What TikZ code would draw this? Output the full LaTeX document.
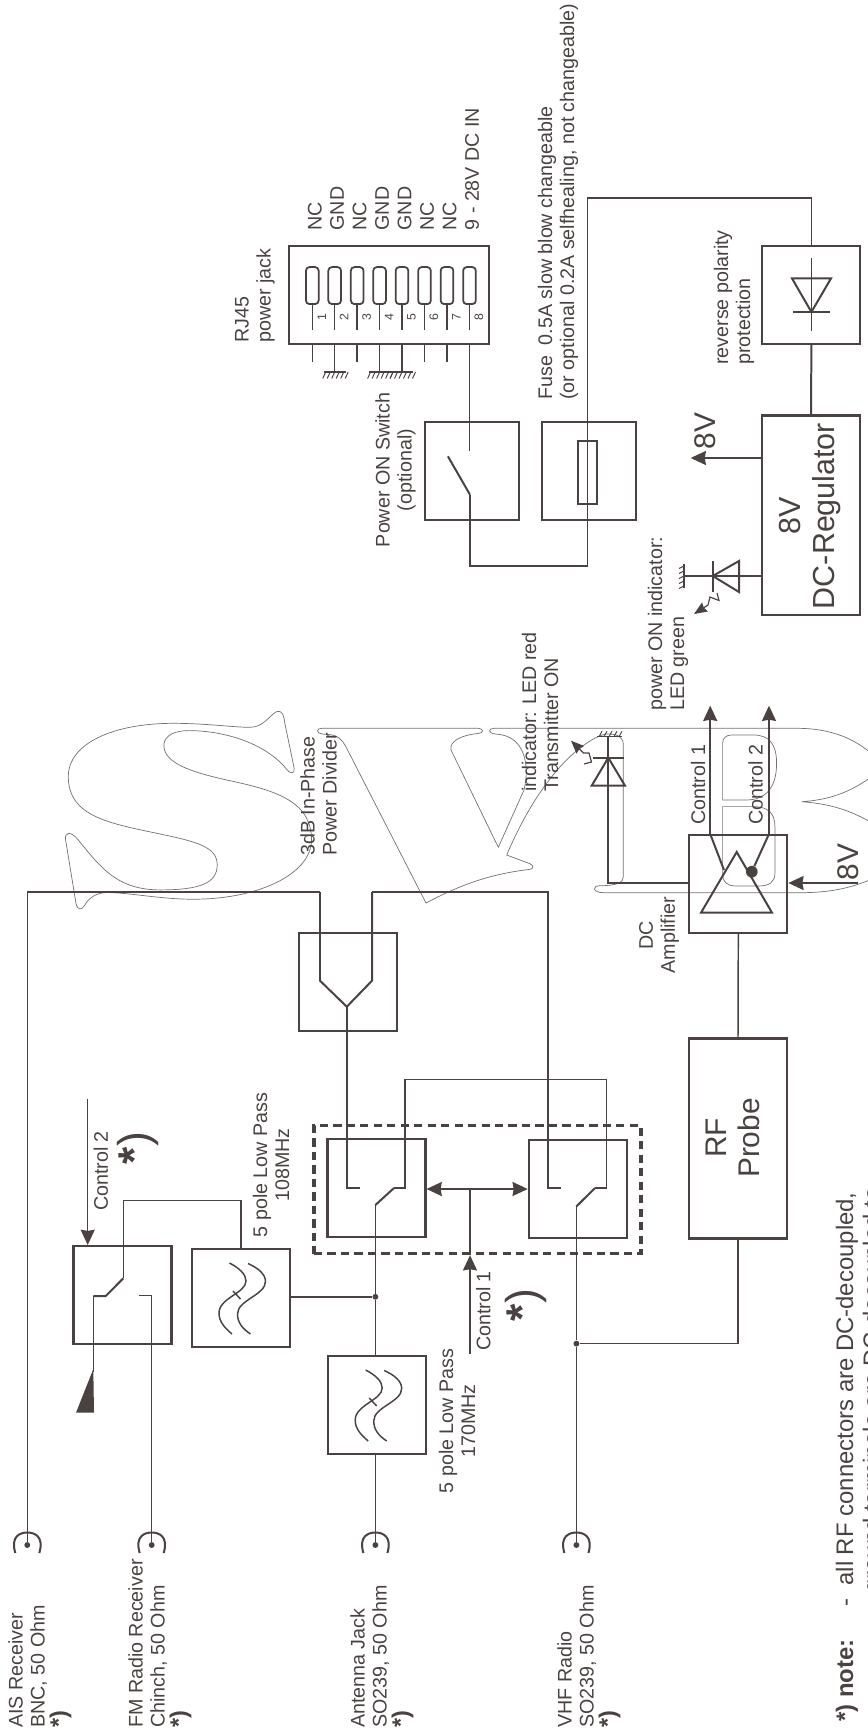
\documentclass[tikz,border=0pt]{standalone}
\usepackage{fontspec}
\setmainfont{Liberation Sans}
\usetikzlibrary{arrows.meta}
\definecolor{ink}{HTML}{4A4241}
\definecolor{wmark}{HTML}{727272}
\tikzset{
  blk/.style={draw=ink, line width=1.8pt, minimum width=2.94cm, minimum height=2.94cm, inner sep=0pt},
  wire/.style={draw=ink, line width=1.25pt},
  thk/.style={draw=ink, line width=1.7pt},
  arw/.style={-{Stealth[length=13pt, width=12pt, inset=1pt]}, draw=ink, line width=1.25pt},
  arwsm/.style={-{Stealth[length=11pt, width=9pt, inset=1pt]}, draw=ink, line width=1pt},
  jackdot/.style={circle, fill=ink, inner sep=0pt, minimum size=5pt},
  jdot/.style={circle, fill=ink, inner sep=0pt, minimum size=5pt},
  lbl/.style={rotate=90, anchor=west, align=left, inner sep=0pt, text=ink, font=\fontsize{16.8}{18.8}\selectfont},
  lblc/.style={rotate=90, anchor=center, align=center, inner sep=0pt, text=ink, font=\fontsize{16.8}{18.8}\selectfont},
  lblb/.style={lblc, font=\fontsize{25.5}{28}\selectfont},
  starlbl/.style={lblc, font=\fontsize{38}{38}\selectfont},
  notel/.style={lbl, font=\fontsize{20.4}{24}\selectfont},
  mk/.style={draw=wmark, line width=.6pt},
}
\newcommand{\notemark}{{\bfseries\fontsize{20}{19}\selectfont *)}}

\begin{document}
\begin{tikzpicture}[x=0.03cm, y=-0.03cm]
    \useasboundingbox (0,0) rectangle (868,1735);
    \begin{scope}
      \clip (0,0) rectangle (868,1735);
      \begin{scope}[shift={(0,700)}, x=0.01cm, y=-0.01cm]
        \draw[mk] (830,35) .. controls (850,30) and (852,50) .. (855,70) -- (883,205)
          .. controls (885,222) and (872,222) .. (862,210) .. controls (800,130) and (670,90) .. (560,92)
          .. controls (510,94) and (490,115) .. (492,140) .. controls (497,190) and (570,215) .. (680,240)
          .. controls (820,270) and (935,300) .. (935,420) .. controls (935,520) and (780,598) .. (580,598)
          .. controls (480,598) and (390,578) .. (320,578) .. controls (280,578) and (260,605) .. (255,615)
          .. controls (245,632) and (233,632) .. (228,610) -- (197,420)
          .. controls (193,398) and (210,390) .. (235,420) .. controls (300,500) and (350,570) .. (480,570)
          .. controls (600,570) and (652,550) .. (652,495) .. controls (652,440) and (590,425) .. (470,400)
          .. controls (330,370) and (205,350) .. (205,230) .. controls (205,130) and (340,70) .. (520,70)
          .. controls (620,70) and (700,82) .. (750,82) .. controls (790,82) and (805,50) .. (830,35) -- cycle;
      \end{scope}
      \draw[mk] (322,728.3) -- (478,728.3) .. controls (484,728.3) and (484,733.3) .. (478,733.5)
        .. controls (462,735) and (449,741) .. (451,750) -- (498.3,847.3) -- (524,790)
        .. controls (530,765) and (525,735) .. (495,734) .. controls (488,733) and (488,728.3) .. (494,728.3)
        -- (796.7,728.3) .. controls (830,728.3) and (858,738) .. (880,762) -- (880,770)
        .. controls (850,795) and (825,800) .. (801.7,801.7) .. controls (825,803.5) and (850,808) .. (880,828)
        -- (880,875) .. controls (855,888) and (830,892.7) .. (800,892.7) -- (604,892.7)
        .. controls (592,892.7) and (592,885.7) .. (600,885.7) .. controls (618,885.7) and (623.3,882) .. (623.3,876.7)
        -- (623.3,745) .. controls (623.3,737) and (618,733.7) .. (606,734)
        .. controls (590,737) and (545,765) .. (506.7,855) -- (530,863.7)
        .. controls (534,866) and (534,869) .. (529,869.5) .. controls (490,874) and (460,885) .. (426,903)
        -- (345,745) .. controls (338,733) and (330,735) .. (322,734) .. controls (316,733) and (316,728.3) .. (322,728.3) -- cycle;
      \begin{scope}[shift={(640,700)}, x=0.01cm, y=-0.01cm]
        \draw[mk] (248,300) -- (248,130) .. controls (248,115) and (258,105) .. (275,105) -- (340,105)
          .. controls (390,105) and (410,135) .. (410,190) .. controls (410,265) and (375,300) .. (320,300) -- cycle;
        \draw[mk] (248,320) -- (340,320) .. controls (385,320) and (405,340) .. (405,380) -- (405,520)
          .. controls (405,548) and (385,558) .. (360,558) -- (285,558) .. controls (262,558) and (248,545) .. (248,525) -- cycle;
      \end{scope}
    \end{scope}

    \node[blk, minimum width=6cm] (jackbox) at (389.4,295) {};
    \node[blk, minimum width=2.83cm] (powbox) at (471.8,470.6) {};
    \node[blk, minimum width=2.82cm] (fusebox) at (589.4,471.4) {};
    \node[blk] (diobox) at (811.4,295) {};
    \node[blk, minimum height=5.99cm] (regbox) at (811,515.3) {};
    \node[blk] (ampbox) at (738.3,884) {};
    \node[blk, minimum height=6cm] (rfbox) at (738,1138.5) {};
    \node[blk] (divbox) at (347.7,982) {};
    \node[blk] (swabox) at (376.5,1188) {};
    \node[blk] (swbbox) at (577.8,1189.4) {};
    \node[blk] (swcbox) at (122.5,1295) {};
    \node[blk] (lpabox) at (377.2,1405) {};
    \node[blk] (lpbbox) at (241,1298) {};
    \node[draw=ink, line width=2.7pt, dash pattern=on 7pt off 4.5pt, minimum width=9.81cm, minimum height=3.84cm, inner sep=0pt] (dashbox) at (477.5,1189.6) {};
    \node[draw=ink, line width=1.5pt, minimum width=.56cm, minimum height=1.89cm, inner sep=0pt] (fuseelem) at (587.3,472.4) {};

    \foreach \i/\x/\lab in {1/312.3/NC, 2/334.7/GND, 3/357.2/NC, 4/379.6/GND, 5/402/GND, 6/424.5/NC, 7/447/NC, 8/469.5/9 - 28V DC IN}{
      \node[draw=ink, line width=1.5pt, rounded corners=3pt, minimum width=.38cm, minimum height=1.11cm, inner sep=0pt] (pin\i) at (\x,285.6) {};
      \draw[wire] (pin\i.south) -- ++(0,24.6);
      \node[lblc, font=\fontsize{10.5}{12}\selectfont] (num\i) at (\x+9.5,317.5) {\i};
      \node[lbl] (name\i) at (\x+2.5,230.6) {\lab};
    }
    \foreach \i in {1,3,6,7}{
      \draw[wire] (jackbox.south -| pin\i) -- ++(0,16.5);
    }
    \foreach \i in {2,4,5}{
      \coordinate (gnd\i) at (pin\i |- 0,372);
      \draw[wire] (jackbox.south -| pin\i) -- (gnd\i);
      \begin{scope}[shift={(gnd\i)}]
        \draw[wire] (-11,0) -- (11,0);
        \foreach \o in {-9,-4.5,0,4.5,9,13.5}{
          \draw[wire, line width=.8pt] (\o,0) -- ++(-3,6.5);
        }
      \end{scope}
    }

    \coordinate (powtop) at (pin8 |- 0,451);
    \coordinate (powlow) at (470,494.7);
    \coordinate (fusebot) at (587.7,566);
    \coordinate (fusetop) at (587.7,198);
    \draw[wire] (jackbox.south -| powtop) -- (powtop);
    \draw[thk] (447.9,456.3) -- (powlow);
    \draw[wire] (powlow) |- (fusebot) -- (fusetop) -| (diobox.north);
    \draw[thk] (diobox.south) -- (regbox.north);

    \draw[wire] (811.4,258) -- (811.4,331.4);
    \draw[thk] (792,278.4) -- (831,278.4) -- (811.4,312) -- cycle;
    \draw[thk] (793,312) -- (830,312);

    \coordinate (regout) at (690.7,458);
    \draw[arw] (regbox.west |- regout) -- (regout);
    \node[lblb] (regv) at (705,431) {8V};

    \coordinate (gngnd) at (684,576);
    \draw[wire] (regbox.west |- gngnd) -- (gngnd);
    \draw[thk] (712.7,576) -- (739,561) -- (739,592) -- cycle;
    \draw[thk] (712.7,561) -- (712.7,592);
    \draw[wire] (684,564) -- (684,588);
    \foreach \o in {566,571,576,581,586}{
      \draw[wire, line width=.8pt] (684,\o) -- ++(-5,2.5);
    }
    \draw[arwsm] (717,593) -- (719,600.5) -- (710,597) -- (708,605) -- (694,614);

    \coordinate (c1tip) at (710.2,705.7);
    \coordinate (c2tip) at (769,705.7);
    \node[jdot, minimum size=10pt] (ampdot) at (751.8,871.7) {};
    \draw[thk] (736.7,852) -- (701,912.7) -- (772,912.7) -- cycle;
    \draw[arw] (ampbox.north -| c1tip) -- (c1tip);
    \draw[arw] (ampbox.north -| c2tip) -- (c2tip);
    \draw[thk] (ampbox.north -| c1tip) -- (724,870);
    \draw[thk] (ampbox.north -| c2tip) -- (ampdot);
    \coordinate (ampin) at (858,883);
    \draw[arw] (ampin) -- (ampbox.east |- ampin);
    \node[lblb] (ampv) at (848,862) {8V};

    \coordinate (redjoin) at (608.3,883);
    \coordinate (redgnd) at (608.3,736.7);
    \draw[thk] (ampbox.west |- redjoin) -- (redjoin) -- (redgnd);
    \draw[thk] (608.3,757.7) -- (591.7,785.7) -- (625,785.7) -- cycle;
    \draw[thk] (592.7,757.7) -- (624,757.7);
    \draw[wire] (597,736.7) -- (622,736.7);
    \foreach \o in {599,604,609,614,619}{
      \draw[wire, line width=.8pt] (\o,736.7) -- ++(3,-5.5);
    }
    \draw[arwsm] (584,764) -- (591.5,762) -- (589,753) -- (583.5,753) -- (571,740.7);

    \draw[wire] (ampbox.south) -- (rfbox.north);

    \foreach \n/\x in {ais/27.3, fm/151.7, ant/375.4, vhf/576.4}{
      \node[jackdot] (\n) at (\x,1545) {};
      \draw[thk] (\x-12,1553) .. controls (\x-17,1536) and (\x-7,1532.5) .. (\x,1532.5) .. controls (\x+7,1532.5) and (\x+17,1536) .. (\x+12,1553);
    }

    \coordinate (divlt) at (320,892);
    \coordinate (divrt) at (372,892);
    \coordinate (divlk) at (320,980.7);
    \coordinate (divrk) at (372,980.7);
    \coordinate (divtip) at (346.8,1006.7);
    \coordinate (swacl) at (360,1188);
    \coordinate (swbcl) at (561,1188);
    \coordinate (swaout) at (394,1188);
    \coordinate (swbout) at (595,1188);
    \coordinate (swatop) at (404.8,1079.7);
    \coordinate (swbtop) at (606.3,1079.7);
    \coordinate (swapiv) at (375.4,1205);
    \coordinate (swbpiv) at (576.4,1206.4);
    \coordinate (divtie) at (548,1188);
    \draw[wire] (ais) |- (divlt);
    \draw[thk] (divlt) -- (divlk) -- (divtip) -- (divrk) -- (divrt);
    \draw[wire] (divtip) |- (swacl);
    \draw[wire] (divrt) -| (divtie) -- (swbcl);
    \draw[wire] (swaout) -| (swatop) -- (swbtop) |- (swbout);
    \draw[thk] (swaout) -- (swapiv);
    \draw[thk] (swbout) -- (swbpiv);
    \node[jdot] (antdot) at (375.4,1296.8) {};
    \node[jdot] (vhfdot) at (576.4,1343.6) {};
    \draw[wire] (swapiv) -- (antdot) -- (ant |- lpabox.north);
    \draw[wire] (ant |- lpabox.south) -- (ant);
    \draw[wire] (swbpiv) -- (vhfdot) -- (vhf);
    \draw[wire] (lpbbox.east |- antdot) -- (antdot);
    \draw[wire] (rfbox.south) |- (vhfdot);

    \coordinate (ctlone) at (470,1353.6);
    \coordinate (ctlmid) at (470,1189);
    \draw[arw] (ctlone) -- (dashbox.south -| ctlone);
    \draw[wire] (dashbox.south -| ctlone) -- (ctlmid);
    \draw[arw] (ctlmid) -- (swabox.east |- ctlmid);
    \draw[arw] (ctlmid) -- (swbbox.west |- ctlmid);

    \coordinate (ctltwo) at (87.7,1099.4);
    \coordinate (swctop) at (123.3,1200.7);
    \coordinate (swcpiv) at (123.3,1278.3);
    \coordinate (swcarm) at (105.7,1296);
    \coordinate (swcl) at (93.3,1296);
    \coordinate (swcend) at (93.3,1371.7);
    \coordinate (swcr) at (139,1295.3);
    \draw[arw] (ctltwo) -- (swcbox.north -| ctltwo);
    \draw[wire] (swcpiv) -- (swctop) -| (lpbbox.north);
    \draw[thk] (swcpiv) -- (swcarm) -- (swcl);
    \draw[wire] (swcl) -- (swcend);
    \draw[wire] (swcr) -| (fm);
    \fill[ink] (93.3,1369) -- (94,1412.7) -- (76,1412.7) -- cycle;

    \foreach \cx/\cy in {377.2/1405, 241/1298}{
      \begin{scope}[shift={(\cx,\cy)}]
        \draw[wire] (-11.5,-35) .. controls (-2,-30) and (5,-24) .. (5,-17) .. controls (5,-5) and (-22,0) .. (-22,15) .. controls (-22,24) and (-16,30) .. (-9,36);
        \draw[wire] (7,-34.5) .. controls (17,-30) and (24.5,-24) .. (24.5,-16.5) .. controls (24.5,-3) and (-3.5,2) .. (-3.5,16) .. controls (-3.5,25) and (2,31) .. (9.5,36);
        \draw[wire] (-8,-7) -- (-0.5,1);
      \end{scope}
    }

    \node[lbl] (jacklbl) at (255,343) {RJ45\\power jack};
    \node[lblc] (powlbl) at (395.5,470) {Power ON Switch\\(optional)};
    \node[lbl] (fuselbl) at (558,400) {Fuse\ \ 0.5A slow blow changeable\\(or optional 0.2A selfhealing, not changeable)};
    \node[lbl] (diolbl) at (734,365) {reverse polarity\\protection};
    \node[lblc, font=\fontsize{26}{29}\selectfont] (reglbl) at (810,516) {8V\\DC-Regulator};
    \node[lbl] (gnlbl) at (668,711) {power ON indicator:\\LED green};
    \node[lbl] (redlbl) at (540,792) {indicator: LED red\\Transmitter ON};
    \node[lbl] (divlbl) at (318.5,856) {3dB In-Phase\\Power Divider};
    \node[lblc] (amplbl) at (659,935) {DC\\Amplifier};
    \node[lblc] (lbctla) at (698,784.7) {Control 1};
    \node[lblc] (lbctlb) at (755.7,784.7) {Control 2};
    \node[lblb] (rflbl) at (732.5,1138) {RF\\Probe};
    \node[lblc] (lplbla) at (457,1421) {5 pole Low Pass\\170MHz};
    \node[lblc] (lplblb) at (271,1165) {5 pole Low Pass\\108MHz};
    \node[lblc] (ctlalbl) at (483.4,1311) {Control 1};
    \node[lblc] (ctlblbl) at (100.8,1171) {Control 2};
    \node[starlbl] (stara) at (526,1305) {{\bfseries *})};
    \node[starlbl] (starb) at (138,1148) {{\bfseries *})};
    \node[lbl] (aislbl) at (40,1728) {AIS Receiver\\BNC, 50 Ohm\\\notemark};
    \node[lbl] (fmlbl) at (160,1728) {FM Radio Receiver\\Chinch, 50 Ohm\\\notemark};
    \node[lbl] (antlbl) at (382,1728) {Antenna Jack\\SO239, 50 Ohm\\\notemark};
    \node[lbl] (vhflbl) at (589,1728) {VHF Radio\\SO239, 50 Ohm\\\notemark};
    \node[notel, font=\bfseries\fontsize{20.4}{24}\selectfont] (notelbl) at (847,1722) {*) note:};
    \node[notel] (notea) at (847,1607) {-\ \ all RF connectors are DC-decoupled,};
    \node[notel] (noteb) at (874,1593) {ground terminals are DC-decoupled to};
\end{tikzpicture}
\end{document}
